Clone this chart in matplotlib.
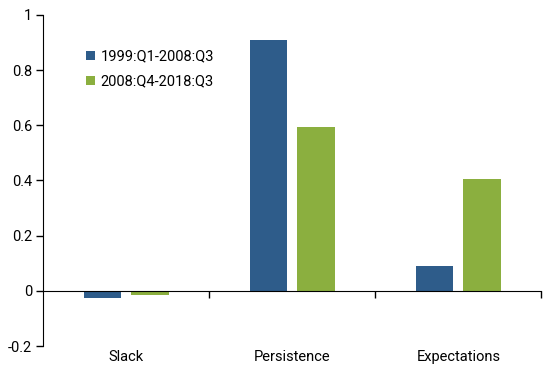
import matplotlib
matplotlib.use("Agg")
import matplotlib.pyplot as plt
import numpy as np

plt.rcParams['font.family'] = ['Roboto', 'DejaVu Sans']

categories = ["Slack", "Persistence", "Expectations"]
series_names = ["1999:Q1-2008:Q3", "2008:Q4-2018:Q3"]
values_a = [-0.025, 0.909, 0.091]
values_b = [-0.016, 0.594, 0.406]
colors = ["#2E5C8A", "#8BAF3F"]
yticks = [-0.2, 0, 0.2, 0.4, 0.6, 0.8, 1]
ytick_labels = ["-0.2", "0", "0.2", "0.4", "0.6", "0.8", "1"]

fig = plt.figure(figsize=(5.5, 3.65), dpi=100)
ax = fig.add_axes([0.0787, 0.052, 0.9055, 0.907])

x = np.arange(len(categories))
w = 0.226
off = 0.144
ax.bar(x - off, values_a, w, color=colors[0], label=series_names[0])
ax.bar(x + off, values_b, w, color=colors[1], label=series_names[1])

ax.set_xlim(-0.5, 2.5)
ax.set_ylim(-0.2, 1)
ax.set_yticks(yticks)
ax.set_yticklabels(ytick_labels)
ax.tick_params(axis='y', direction='out', length=5, width=1, labelsize=10.5, pad=3)

ax.spines['top'].set_visible(False)
ax.spines['right'].set_visible(False)
ax.spines['bottom'].set_position(('data', 0))
ax.set_xticks([0.5, 1.5, 2.5])
ax.set_xticklabels([])
ax.tick_params(axis='x', direction='out', length=5, width=1)

trans = matplotlib.transforms.blended_transform_factory(ax.transData, ax.transAxes)
for i, c in enumerate(categories):
    ax.text(i, -0.012, c, transform=trans, ha='center', va='top', fontsize=10.5)

ax.legend(loc='upper left', bbox_to_anchor=(0.06, 0.935), frameon=False,
          handlelength=0.6, handleheight=0.6, handletextpad=0.4,
          labelspacing=0.75, fontsize=10.5)

fig.savefig("out.png", dpi=100)
